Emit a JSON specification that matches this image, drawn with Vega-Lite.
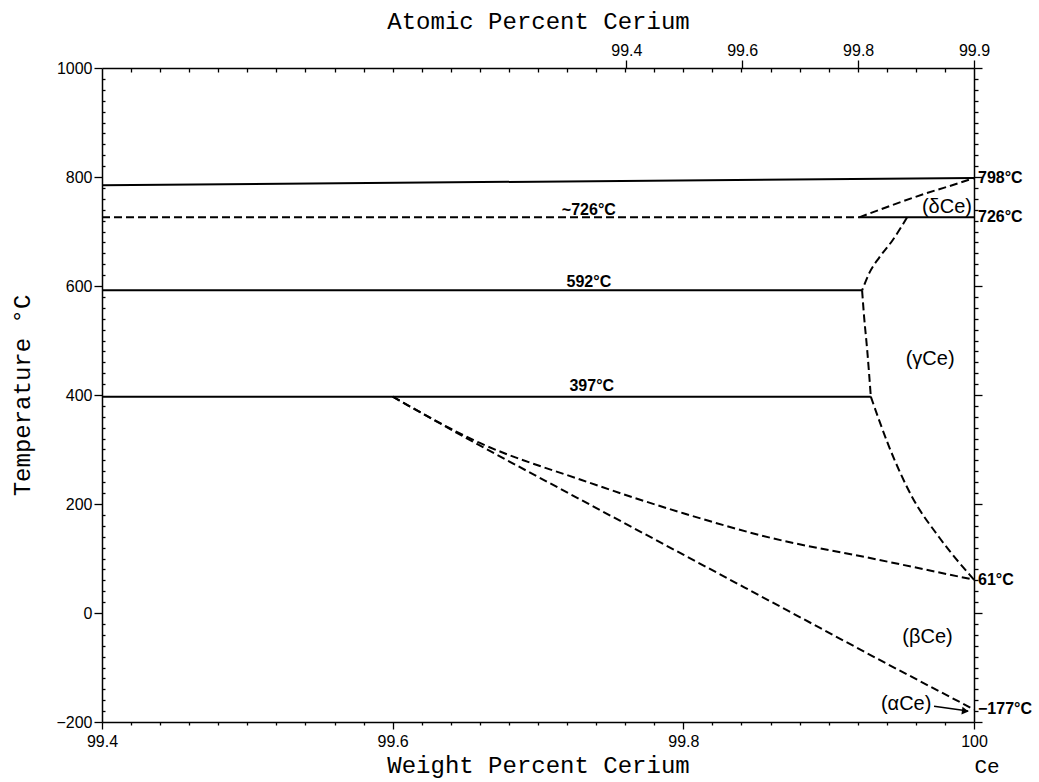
{
  "$schema": "https://vega.github.io/schema/vega-lite/v6.json",
  "width": 872,
  "height": 654,
  "autosize": {"type": "none"},
  "padding": {"left": 102, "top": 68, "right": 65, "bottom": 60},
  "background": "white",
  "config": {
    "view": {"stroke": null},
    "axis": {
      "domainColor": "black", "domainWidth": 1.5, "tickColor": "black", "tickWidth": 1.3,
      "labelColor": "black", "titleColor": "black", "grid": false,
      "labelFont": "Liberation Sans", "labelFontSize": 16, "labelOverlap": false, "labelFlush": false,
      "titleFont": "Liberation Mono", "titleFontSize": 24, "titleFontWeight": "normal"
    }
  },
  "resolve": {"axis": {"x": "independent", "y": "independent"}},
  "layer": [
    {
      "data": {"values": [
        {"s": "A", "i": 0, "w": 99.4, "T": 785}, {"s": "A", "i": 1, "w": 100, "T": 798},
        {"s": "B", "i": 0, "w": 99.4, "T": 592}, {"s": "B", "i": 1, "w": 99.923, "T": 592},
        {"s": "C", "i": 0, "w": 99.4, "T": 397}, {"s": "C", "i": 1, "w": 99.929, "T": 397},
        {"s": "D", "i": 0, "w": 99.921, "T": 726}, {"s": "D", "i": 1, "w": 100, "T": 726}
      ]},
      "mark": {"type": "line", "color": "black", "strokeWidth": 2},
      "encoding": {
        "x": {"field": "w", "type": "quantitative",
          "scale": {"domain": [99.4, 100], "nice": false, "zero": false},
          "axis": {"orient": "bottom",
            "values": [99.4, 99.42, 99.44, 99.46, 99.48, 99.5, 99.52, 99.54, 99.56, 99.58, 99.6, 99.62, 99.64, 99.66, 99.68, 99.7, 99.72, 99.74, 99.76, 99.78, 99.8, 99.82, 99.84, 99.86, 99.88, 99.9, 99.92, 99.94, 99.96, 99.98, 100],
            "labelExpr": "datum.value == 100 ? '100' : (datum.value == 99.4 || datum.value == 99.6 || datum.value == 99.8) ? format(datum.value, '.1f') : ''",
            "tickSize": {"condition": {"test": "datum.value == 99.4 || datum.value == 99.6 || datum.value == 99.8 || datum.value == 100", "value": 7}, "value": 3},
            "labelPadding": 4, "title": "Weight Percent Cerium", "titlePadding": 4}},
        "y": {"field": "T", "type": "quantitative",
          "scale": {"domain": [-200, 1000], "nice": false, "zero": false},
          "axis": {"orient": "left",
            "values": [-200, -180, -160, -140, -120, -100, -80, -60, -40, -20, 0, 20, 40, 60, 80, 100, 120, 140, 160, 180, 200, 220, 240, 260, 280, 300, 320, 340, 360, 380, 400, 420, 440, 460, 480, 500, 520, 540, 560, 580, 600, 620, 640, 660, 680, 700, 720, 740, 760, 780, 800, 820, 840, 860, 880, 900, 920, 940, 960, 980, 1000],
            "labelExpr": "datum.value % 200 == 0 ? format(datum.value, 'd') : ''",
            "tickSize": {"condition": {"test": "datum.value % 200 == 0", "value": 8}, "value": -3},
            "labelPadding": 2, "title": "Temperature °C", "titlePadding": 21}},
        "detail": {"field": "s"},
        "order": {"field": "i"}
      }
    },
    {
      "data": {"values": [
        {"s": "E", "i": 0, "w": 99.4, "T": 726}, {"s": "E", "i": 1, "w": 99.921, "T": 726},
        {"s": "F", "i": 0, "w": 99.921, "T": 726}, {"s": "F", "i": 1, "w": 99.967, "T": 770}, {"s": "F", "i": 2, "w": 99.991, "T": 790}, {"s": "F", "i": 3, "w": 100, "T": 798},
        {"s": "G", "i": 0, "w": 99.954, "T": 726}, {"s": "G", "i": 1, "w": 99.944, "T": 684}, {"s": "G", "i": 2, "w": 99.935, "T": 653}, {"s": "G", "i": 3, "w": 99.928, "T": 624}, {"s": "G", "i": 4, "w": 99.923, "T": 592},
        {"s": "H", "i": 0, "w": 99.923, "T": 592}, {"s": "H", "i": 1, "w": 99.9244, "T": 543}, {"s": "H", "i": 2, "w": 99.9265, "T": 483}, {"s": "H", "i": 3, "w": 99.929, "T": 397},
        {"s": "I", "i": 0, "w": 99.929, "T": 397}, {"s": "I", "i": 1, "w": 99.9416, "T": 305}, {"s": "I", "i": 2, "w": 99.9574, "T": 213}, {"s": "I", "i": 3, "w": 99.976, "T": 139}, {"s": "I", "i": 4, "w": 100, "T": 61},
        {"s": "J", "i": 0, "w": 99.6, "T": 397}, {"s": "J", "i": 1, "w": 99.66, "T": 312}, {"s": "J", "i": 2, "w": 99.73, "T": 244}, {"s": "J", "i": 3, "w": 99.8, "T": 183}, {"s": "J", "i": 4, "w": 99.86, "T": 138}, {"s": "J", "i": 5, "w": 99.93, "T": 100}, {"s": "J", "i": 6, "w": 100, "T": 61},
        {"s": "K", "i": 0, "w": 99.6, "T": 397}, {"s": "K", "i": 1, "w": 99.65, "T": 322}, {"s": "K", "i": 2, "w": 99.73, "T": 207}, {"s": "K", "i": 3, "w": 99.8, "T": 107}, {"s": "K", "i": 4, "w": 99.87, "T": 7}, {"s": "K", "i": 5, "w": 99.94, "T": -93}, {"s": "K", "i": 6, "w": 100, "T": -177}
      ]},
      "mark": {"type": "line", "color": "black", "strokeWidth": 2, "strokeDash": [8, 4], "interpolate": "monotone"},
      "encoding": {
        "x": {"field": "w", "type": "quantitative", "scale": {"domain": [99.4, 100], "nice": false, "zero": false}, "axis": null},
        "y": {"field": "T", "type": "quantitative", "scale": {"domain": [-200, 1000], "nice": false, "zero": false}, "axis": null},
        "detail": {"field": "s"},
        "order": {"field": "i"}
      }
    },
    {
      "data": {"values": [
        {"w": 99.735, "T": 739, "label": "~726°C"},
        {"w": 99.735, "T": 607, "label": "592°C"},
        {"w": 99.737, "T": 416, "label": "397°C"}
      ]},
      "mark": {"type": "text", "font": "Liberation Sans", "fontSize": 16, "fontWeight": "bold", "color": "black", "align": "center", "baseline": "middle"},
      "encoding": {
        "x": {"field": "w", "type": "quantitative",
          "scale": {"domain": [99.4, 100], "nice": false, "zero": false},
          "axis": {"orient": "top",
            "values": [99.42, 99.44, 99.46, 99.48, 99.5, 99.52, 99.54, 99.56, 99.58, 99.6, 99.62, 99.64, 99.66, 99.68, 99.7, 99.72, 99.74, 99.76, 99.78, 99.8, 99.82, 99.84, 99.86, 99.88, 99.9, 99.92, 99.94, 99.96, 99.98, 99.7608, 99.8405, 99.9203, 100],
            "labelExpr": "datum.value == 99.7608 ? '99.4' : datum.value == 99.8405 ? '99.6' : datum.value == 99.9203 ? '99.8' : datum.value == 100 ? '99.9' : ''",
            "tickSize": {"condition": {"test": "datum.value == 99.7608 || datum.value == 99.8405 || datum.value == 99.9203 || datum.value == 100", "value": 8}, "value": -4},
            "labelPadding": 2, "title": "Atomic Percent Cerium", "titlePadding": 9}},
        "y": {"field": "T", "type": "quantitative",
          "scale": {"domain": [-200, 1000], "nice": false, "zero": false},
          "axis": {"orient": "right", "labels": false, "title": null,
            "values": [-200, -180, -160, -140, -120, -100, -80, -60, -40, -20, 0, 20, 40, 60, 80, 100, 120, 140, 160, 180, 200, 220, 240, 260, 280, 300, 320, 340, 360, 380, 400, 420, 440, 460, 480, 500, 520, 540, 560, 580, 600, 620, 640, 660, 680, 700, 720, 740, 760, 780, 800, 820, 840, 860, 880, 900, 920, 940, 960, 980, 1000],
            "tickSize": {"condition": {"test": "datum.value % 200 == 0", "value": 8}, "value": 4}}},
        "text": {"field": "label"}
      }
    },
    {
      "data": {"values": [
        {"w": 100, "T": 798, "label": "798°C"},
        {"w": 100, "T": 726, "label": "726°C"},
        {"w": 100, "T": 61, "label": "61°C"},
        {"w": 100, "T": -177, "label": "−177°C"}
      ]},
      "mark": {"type": "text", "font": "Liberation Sans", "fontSize": 16, "fontWeight": "bold", "color": "black", "align": "left", "baseline": "middle", "dx": 4},
      "encoding": {
        "x": {"field": "w", "type": "quantitative", "scale": {"domain": [99.4, 100], "nice": false, "zero": false}, "axis": null},
        "y": {"field": "T", "type": "quantitative", "scale": {"domain": [-200, 1000], "nice": false, "zero": false}, "axis": null},
        "text": {"field": "label"}
      }
    },
    {
      "data": {"values": [
        {"w": 99.9814, "T": 745, "label": "(δCe)"},
        {"w": 99.9698, "T": 466, "label": "(γCe)"},
        {"w": 99.968, "T": -44, "label": "(βCe)"},
        {"w": 99.9533, "T": -167, "label": "(αCe)"}
      ]},
      "mark": {"type": "text", "font": "Liberation Sans", "fontSize": 20, "color": "black", "align": "center", "baseline": "middle"},
      "encoding": {
        "x": {"field": "w", "type": "quantitative", "scale": {"domain": [99.4, 100], "nice": false, "zero": false}, "axis": null},
        "y": {"field": "T", "type": "quantitative", "scale": {"domain": [-200, 1000], "nice": false, "zero": false}, "axis": null},
        "text": {"field": "label"}
      }
    },
    {
      "data": {"values": [
        {"i": 0, "w": 99.9725, "T": -171},
        {"i": 1, "w": 99.996, "T": -180}
      ]},
      "mark": {"type": "line", "color": "black", "strokeWidth": 1.5},
      "encoding": {
        "x": {"field": "w", "type": "quantitative", "scale": {"domain": [99.4, 100], "nice": false, "zero": false}, "axis": null},
        "y": {"field": "T", "type": "quantitative", "scale": {"domain": [-200, 1000], "nice": false, "zero": false}, "axis": null},
        "order": {"field": "i"}
      }
    },
    {
      "data": {"values": [{"w": 99.994, "T": -180}]},
      "mark": {"type": "point", "shape": "triangle-right", "filled": true, "color": "black", "size": 60, "angle": 8, "opacity": 1},
      "encoding": {
        "x": {"field": "w", "type": "quantitative", "scale": {"domain": [99.4, 100], "nice": false, "zero": false}, "axis": null},
        "y": {"field": "T", "type": "quantitative", "scale": {"domain": [-200, 1000], "nice": false, "zero": false}, "axis": null}
      }
    },
    {
      "data": {"values": [{"w": 100, "T": -200, "label": "Ce"}]},
      "mark": {"type": "text", "font": "Liberation Mono", "fontSize": 21, "color": "black", "align": "center", "baseline": "alphabetic", "dx": 13, "dy": 51},
      "encoding": {
        "x": {"field": "w", "type": "quantitative", "scale": {"domain": [99.4, 100], "nice": false, "zero": false}, "axis": null},
        "y": {"field": "T", "type": "quantitative", "scale": {"domain": [-200, 1000], "nice": false, "zero": false}, "axis": null},
        "text": {"field": "label"}
      }
    }
  ]
}
